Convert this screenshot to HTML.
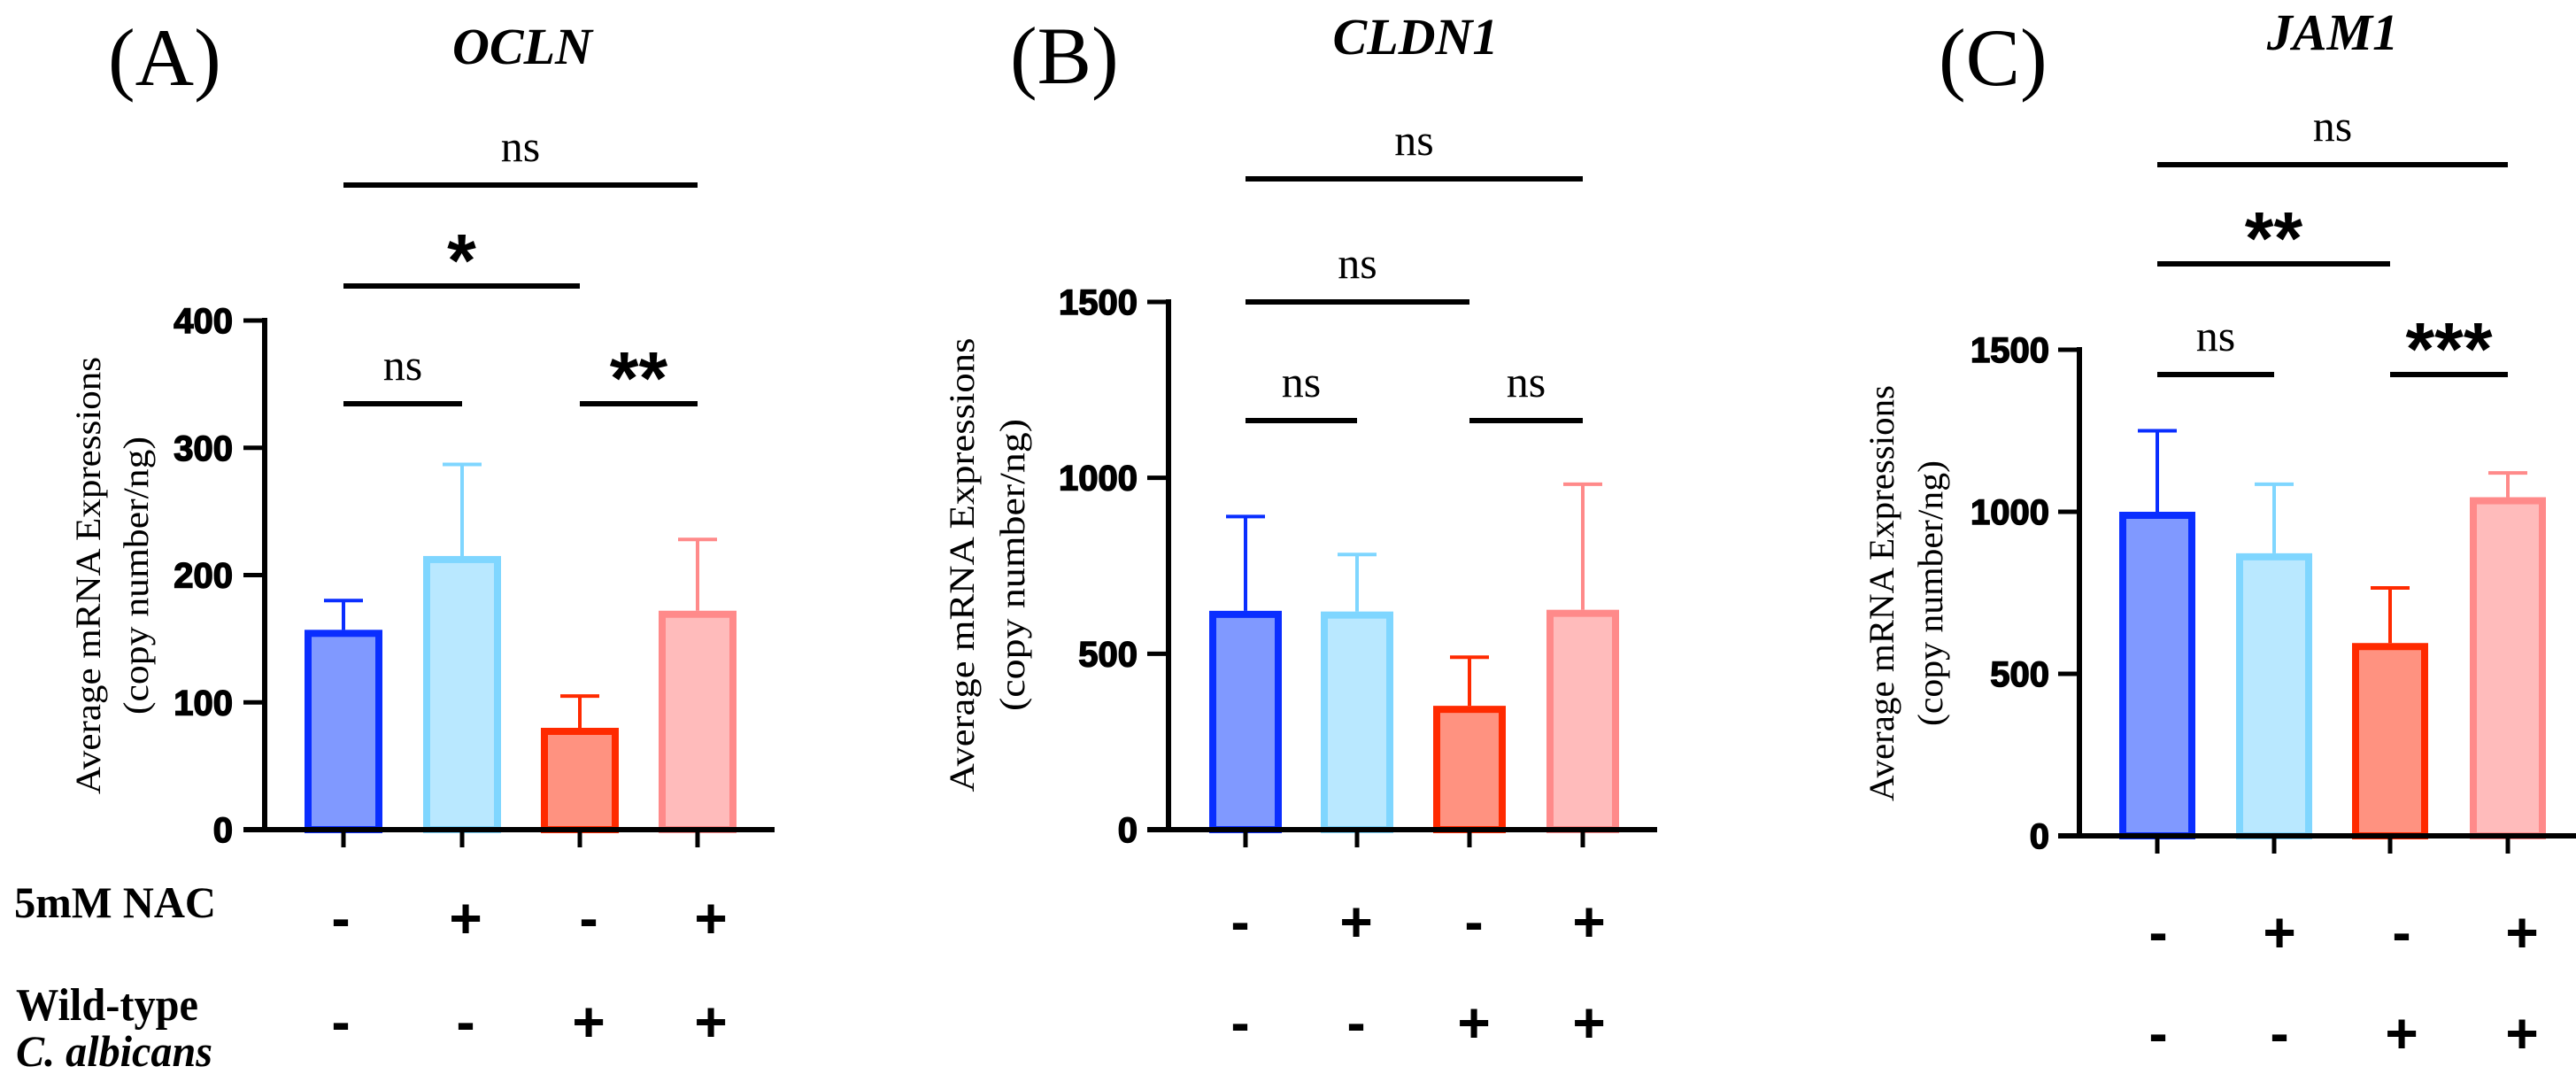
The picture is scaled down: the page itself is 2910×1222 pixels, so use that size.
<!DOCTYPE html>
<html><head><meta charset="utf-8"><style>
html,body{margin:0;padding:0;background:#fff;}
svg{display:block;}
</style></head><body>
<svg id="fig" xmlns="http://www.w3.org/2000/svg" width="2910" height="1222" viewBox="0 0 2910 1222">
<rect x="0" y="0" width="2910" height="1222" fill="#fff"/>
<g font-family="Liberation Serif, serif" fill="#000">
 <text x="122" y="96" font-size="92">(A)</text>
 <text x="1141" y="94" font-size="92">(B)</text>
 <text x="2190" y="96" font-size="92">(C)</text>
 <text x="590" y="72" font-size="58" font-weight="bold" font-style="italic" text-anchor="middle">OCLN</text>
 <text x="1599" y="61" font-size="58" font-weight="bold" font-style="italic" text-anchor="middle">CLDN1</text>
 <text x="2635" y="56" font-size="58" font-weight="bold" font-style="italic" text-anchor="middle">JAM1</text>
 <text x="16" y="1036" font-size="50" font-weight="bold" textLength="228" lengthAdjust="spacingAndGlyphs">5mM NAC</text>
 <text x="18" y="1152" font-size="52" font-weight="bold" textLength="206" lengthAdjust="spacingAndGlyphs">Wild-type</text>
 <text x="18" y="1204" font-size="50" font-weight="bold" font-style="italic" textLength="222" lengthAdjust="spacingAndGlyphs">C. albicans</text>
</g>
<g id="plots"></g>
</svg>
<script>
// ---- data ----
const categories = ["ctrl", "NAC", "Calb", "NAC+Calb"];
const nacSigns = ["-", "+", "-", "+"];
const calbSigns = ["-", "-", "+", "+"];
const oclnMeans = [157, 215, 80, 172];
const oclnErr = [180, 287, 105, 228];
const oclnTicks = [0, 100, 200, 300, 400];
const cldn1Means = [622, 620, 352, 625];
const cldn1Err = [890, 782, 490, 982];
const cldn1Ticks = [0, 500, 1000, 1500];
const jam1Means = [1000, 872, 595, 1045];
const jam1Err = [1250, 1085, 765, 1120];
const jam1Ticks = [0, 500, 1000, 1500];
const oclnSig = [[0, 3, "ns"], [0, 2, "*"], [0, 1, "ns"], [2, 3, "**"]];
const cldn1Sig = [[0, 3, "ns"], [0, 2, "ns"], [0, 1, "ns"], [2, 3, "ns"]];
const jam1Sig = [[0, 3, "ns"], [0, 2, "**"], [0, 1, "ns"], [2, 3, "***"]];

const strokeCols = ["#0a2eff", "#7fd6ff", "#ff2a00", "#ff8a8a"];
const fillCols = ["#8099ff", "#b9e8ff", "#ff9280", "#ffbbbb"];
const NS = "http://www.w3.org/2000/svg";
const root = document.getElementById("plots");
function mk(tag, attrs, parent, text) {
  const e = document.createElementNS(NS, tag);
  for (const k in attrs) e.setAttribute(k, attrs[k]);
  if (text !== undefined) e.textContent = text;
  (parent || root).appendChild(e);
  return e;
}

const panels = [
  {id:"ocln", means:oclnMeans, err:oclnErr, ticks:oclnTicks, sig:oclnSig,
   axX:299, y0:937, yTop:362, xEnd:875, centers:[388,522,655,788], barW:88,
   tickLabR:263, sigY:[209,323,456,456], ylx:[113,167], ylc:650, ylen:[494,314],
   row1:1037, row2:1154, signX:[385,526,665,803]},
  {id:"cldn1", means:cldn1Means, err:cldn1Err, ticks:cldn1Ticks, sig:cldn1Sig,
   axX:1320, y0:937, yTop:341, xEnd:1872, centers:[1407,1533,1660,1788], barW:82,
   tickLabR:1285, sigY:[202,341,475,475], ylx:[1100,1157], ylc:638, ylen:[513,330],
   row1:1041, row2:1155, signX:[1401,1532,1665,1795]},
  {id:"jam1", means:jam1Means, err:jam1Err, ticks:jam1Ticks, sig:jam1Sig,
   axX:2349, y0:944, yTop:395, xEnd:2910, centers:[2437,2569,2700,2833], barW:86,
   tickLabR:2315, sigY:[186,298,423,423], ylx:[2139,2194], ylc:670, ylen:[470,300],
   row1:1053, row2:1167, signX:[2438,2575,2713,2849]}
];

panels.forEach(p => {
  const g = mk("g", {});
  
  
  const maxT = p.ticks[p.ticks.length - 1];
  const yS = v => p.y0 - (v / maxT) * (p.y0 - p.yTop);

  p.means.forEach((m, i) => {
    const cx = p.centers[i];
    const yt = yS(m);
    const bar = mk("rect", {x: cx - p.barW/2 + 4, y: yt + 4, width: p.barW - 8, height: p.y0 - yt - 4,
      fill: fillCols[i], stroke: strokeCols[i], "stroke-width": 8}, g);
    
    
    const ye = yS(p.err[i]);
    const eb = mk("path", {d: `M${cx},${yt} V${ye} M${cx-22},${ye} H${cx+22}`, stroke: strokeCols[i], "stroke-width": 4, fill: "none"}, g);
    
    
  });

  const ya = mk("line", {x1: p.axX, y1: p.yTop - 3, x2: p.axX, y2: p.y0 + 3, stroke: "#000", "stroke-width": 6}, g);
  
  
  const xa = mk("line", {x1: p.axX - 24, y1: p.y0, x2: p.xEnd, y2: p.y0, stroke: "#000", "stroke-width": 6}, g);
  
  
  p.ticks.forEach(t => {
    const y = yS(t);
    const tk = mk("line", {x1: p.axX - 24, y1: y, x2: p.axX, y2: y, stroke: "#000", "stroke-width": 5}, g);
    
    
    const tl = mk("text", {x: p.tickLabR, y: y + 14, "font-size": 40, "font-weight": "bold", stroke: "#000", "stroke-width": 1.5,
      "font-family": "Liberation Sans, sans-serif", "text-anchor": "end"}, g, String(t));
    
    
  });
  p.centers.forEach(cx => {
    const xt = mk("line", {x1: cx, y1: p.y0, x2: cx, y2: p.y0 + 20, stroke: "#000", "stroke-width": 5}, g);
    
    
  });

  const t1 = mk("text", {transform: `translate(${p.ylx[0]},${p.ylc}) rotate(-90)`, "text-anchor": "middle",
    "font-size": 40, "font-family": "Liberation Serif, serif", textLength: p.ylen[0], lengthAdjust: "spacingAndGlyphs"}, g, "Average mRNA Expressions");
  
  
  const t2 = mk("text", {transform: `translate(${p.ylx[1]},${p.ylc}) rotate(-90)`, "text-anchor": "middle",
    "font-size": 40, "font-family": "Liberation Serif, serif", textLength: p.ylen[1], lengthAdjust: "spacingAndGlyphs"}, g, "(copy number/ng)");
  
  

  p.sig.forEach((s, k) => {
    const x1 = p.centers[s[0]], x2 = p.centers[s[1]], y = p.sigY[k];
    const ln = mk("line", {x1: x1, y1: y, x2: x2, y2: y, stroke: "#000", "stroke-width": 6}, g);
    
    
    const mx = (x1 + x2) / 2;
    let tx;
    if (s[2] === "ns") {
      tx = mk("text", {x: mx, y: y - 27, "font-size": 50, "font-family": "Liberation Serif, serif", "text-anchor": "middle"}, g, "ns");
    } else {
      tx = mk("text", {x: mx, y: y, "font-size": 84, "font-weight": "bold", "font-family": "Liberation Sans, sans-serif", "text-anchor": "middle"}, g, s[2]);
    }
    
    
  });

  [nacSigns, calbSigns].forEach((arr, r) => {
    const yc = r === 0 ? p.row1 : p.row2;
    arr.forEach((sg, i) => {
      const st = mk("text", {x: p.signX[i], y: yc + 22, "font-size": 64, "font-weight": "bold",
        "font-family": "Liberation Sans, sans-serif", "text-anchor": "middle"}, g, sg);
      
      
    });
  });
});
</script>
</body></html>
